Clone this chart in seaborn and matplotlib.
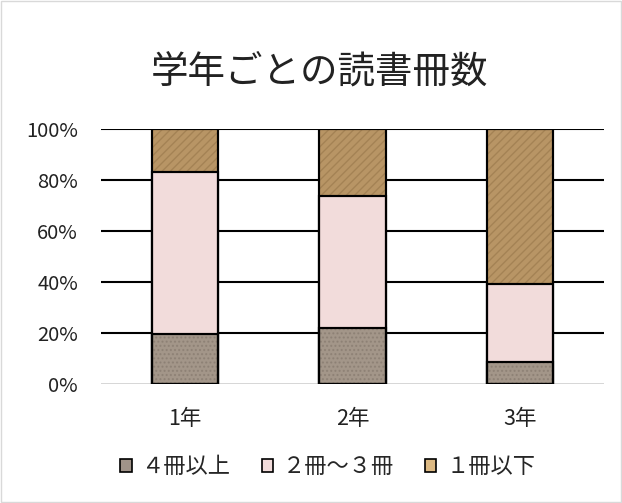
import matplotlib
matplotlib.use("Agg")
import matplotlib.pyplot as plt
import seaborn as sns
import pandas as pd
import numpy as np
from matplotlib.patches import Patch, Rectangle

# ---- data ----
grades = ["1年", "2年", "3年"]
series_names = ["４冊以上", "２冊～３冊", "１冊以下"]
four_plus = [19.6, 22.0, 8.7]
two_three = [63.5, 51.7, 30.5]
one_less = [16.9, 26.3, 60.8]
y_ticks = [0, 20, 40, 60, 80, 100]
y_tick_labels = ["0%", "20%", "40%", "60%", "80%", "100%"]

colors = ["#a39689", "#f2dcdb", "#b89565"]
legend_colors = ["#a09389", "#f2dcdb", "#dcb983"]
hatches = ["....", None, "////"]
hatch_colors = ["#6e6258", None, "#7f6037"]

sns.set_theme(style="white")
plt.rcParams["font.family"] = ["Noto Sans CJK JP", "DejaVu Sans"]

fig = plt.figure(figsize=(6.22, 5.03), dpi=100)
ax = fig.add_axes([0.1624, 0.2366, 0.8086, 0.507])

df = pd.DataFrame({"grade": grades, "b": four_plus, "m": two_three, "t": one_less})
df["c1"] = df["b"]
df["c2"] = df["b"] + df["m"]
df["c3"] = df["b"] + df["m"] + df["t"]

# gridlines behind
for yv in y_ticks[1:]:
    ax.axhline(yv, color="black", lw=1.5, zorder=0)
ax.axhline(0, color="#d0d0d0", lw=1.2, zorder=0.5)

layers = [("c3", 2), ("c2", 1), ("c1", 0)]
for col, idx in layers:
    sns.barplot(data=df, x="grade", y=col, color=colors[idx], saturation=1,
                width=0.394, edgecolor="black", linewidth=1.5, ax=ax, zorder=2 + (2 - idx))
    if hatches[idx]:
        sns.barplot(data=df, x="grade", y=col, color="none", saturation=1, fill=False,
                    width=0.394, edgecolor=hatch_colors[idx], linewidth=0, hatch=hatches[idx],
                    ax=ax, zorder=2 + (2 - idx) + 0.1, alpha=0.35)

# redraw black outlines of segments
for col, idx in layers:
    sns.barplot(data=df, x="grade", y=col, fill=False, width=0.394, edgecolor="black",
                linewidth=1.5, ax=ax, zorder=6)

ax.set_ylim(0, 100)
ax.set_xlim(-0.5, 2.5)
ax.set_yticks(y_ticks)
ax.set_yticklabels(y_tick_labels, fontsize=14.5, color="#222222")
ax.tick_params(axis="y", pad=16.5, length=0)
ax.tick_params(axis="x", pad=17, length=0, labelsize=15.5, labelcolor="#222222")
ax.set_xlabel("")
ax.set_ylabel("")
for s in ax.spines.values():
    s.set_visible(False)

fig.text(0.513, 0.857, "学年ごとの読書冊数", ha="center", va="center", fontsize=27, color="#222222")

handles = [Patch(facecolor=legend_colors[i], edgecolor="black", linewidth=1.2) for i in range(3)]
fig.legend(handles, series_names, loc="center", bbox_to_anchor=(0.527, 0.072), ncol=3,
           frameon=False, fontsize=16, handlelength=0.5, handleheight=0.5,
           handletextpad=0.45, columnspacing=1.4)

fig.patches.append(Rectangle((0.0015, 0.002), 0.997, 0.996, transform=fig.transFigure,
                             fill=False, edgecolor="#d9d9d9", linewidth=1))

fig.savefig("out.png", dpi=100, facecolor="white")
